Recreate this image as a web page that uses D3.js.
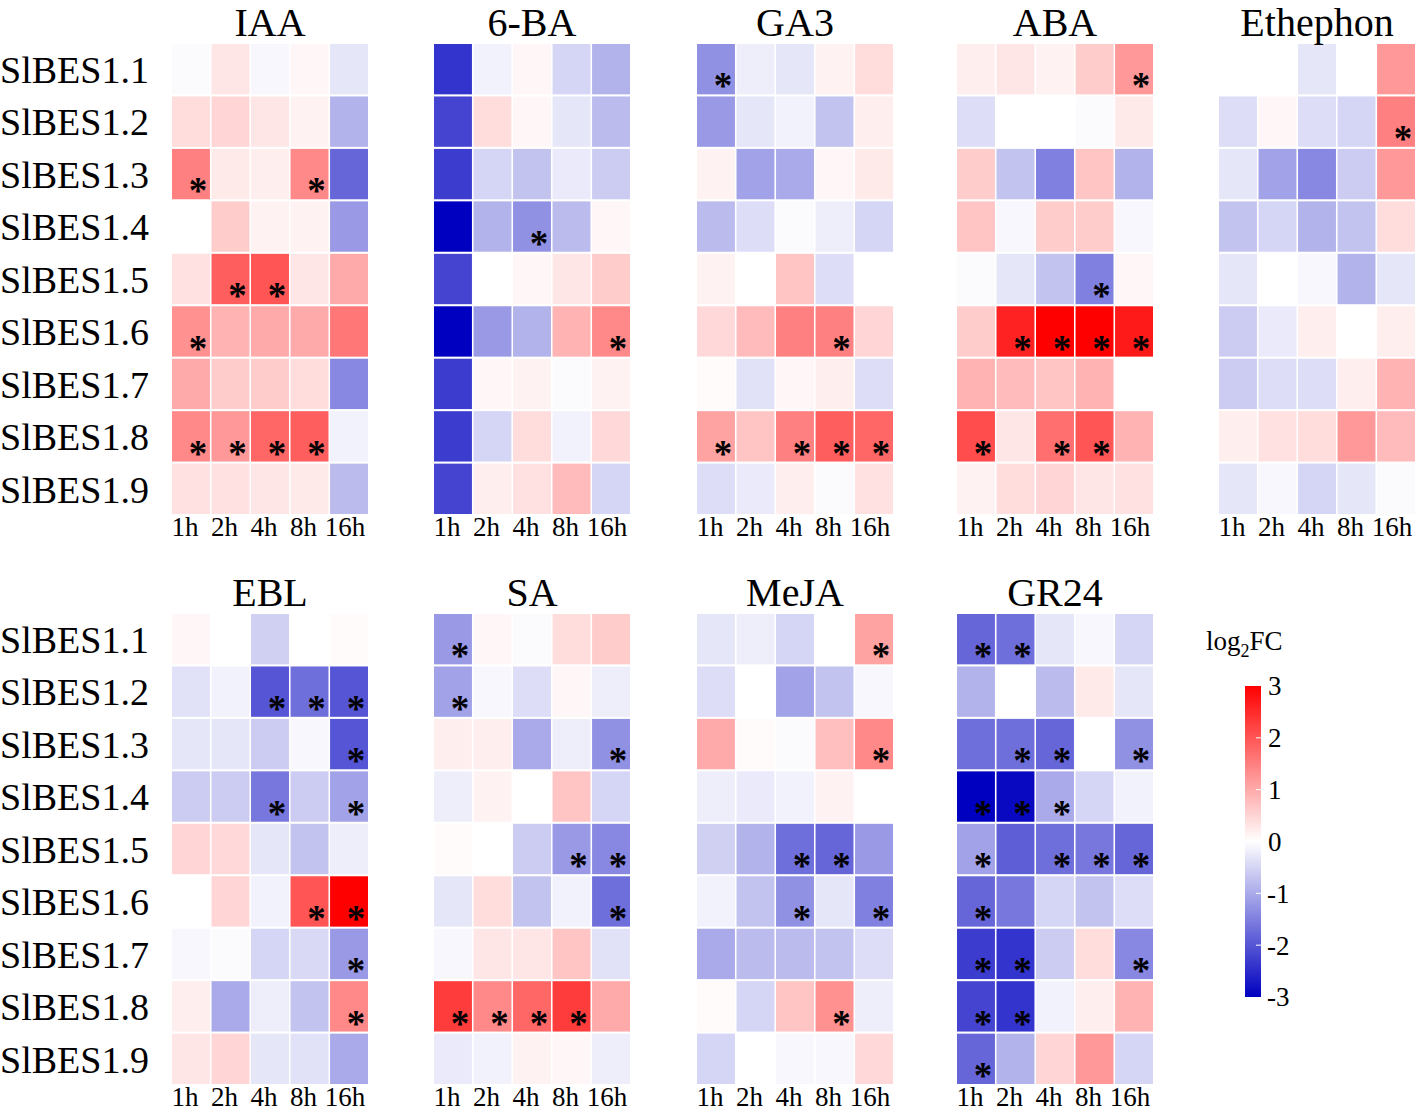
<!DOCTYPE html>
<html><head><meta charset="utf-8">
<script src="https://cdn.jsdelivr.net/npm/d3@7"></script>
<style>body{margin:0;background:#fff}svg{display:block}text{font-family:"Liberation Serif","Times New Roman",serif;fill:#000}</style>
</head><body>
<svg id="c" width="1416" height="1112"></svg>
<script>
const genes = ["SlBES1.1","SlBES1.2","SlBES1.3","SlBES1.4","SlBES1.5","SlBES1.6","SlBES1.7","SlBES1.8","SlBES1.9"];
const times = ["1h","2h","4h","8h","16h"];
const treatments = ["IAA","6-BA","GA3","ABA","Ethephon","EBL","SA","MeJA","GR24"];
const legendTicks = [3,2,1,0,-1,-2,-3];

// log2FC values, rows = genes, cols = times
const IAA = [[-0.05,0.3,-0.1,0.1,-0.3],[0.4,0.5,0.3,0.15,-0.9],[1.5,0.25,0.2,1.4,-1.8],[0.0,0.6,0.15,0.15,-1.2],[0.35,1.9,2.0,0.3,1.0],[1.3,0.9,1.0,1.0,1.6],[1.0,0.6,0.6,0.4,-1.4],[1.4,1.2,1.8,1.9,-0.15],[0.35,0.35,0.3,0.25,-0.8]];
const BA6 = [[-2.4,-0.15,0.1,-0.5,-0.9],[-2.2,0.4,0.1,-0.3,-0.8],[-2.3,-0.5,-0.7,-0.25,-0.6],[-3.0,-0.9,-1.3,-0.8,0.1],[-2.2,0.0,0.1,0.3,0.6],[-3.0,-1.2,-0.9,0.9,1.4],[-2.3,0.1,0.15,-0.05,0.15],[-2.3,-0.5,0.4,-0.15,0.45],[-2.2,0.2,0.35,0.8,-0.5]];
const GA3 = [[-1.3,-0.2,-0.3,0.15,0.4],[-1.2,-0.3,-0.15,-0.7,0.2],[0.15,-1.1,-1.0,0.1,0.25],[-0.8,-0.4,-0.05,-0.2,-0.5],[0.15,0.0,0.7,-0.4,0.0],[0.45,0.8,1.5,1.5,0.5],[0.05,-0.35,0.1,0.2,-0.4],[1.1,0.7,1.5,1.9,1.8],[-0.4,-0.25,0.2,-0.05,0.35]];
const ABA = [[0.2,0.3,0.15,0.6,1.2],[-0.4,0.0,0.0,-0.05,0.25],[0.6,-0.7,-1.5,0.7,-0.9],[0.7,-0.1,0.6,0.6,-0.1],[-0.05,-0.3,-0.7,-1.5,0.1],[0.6,2.6,3.0,3.0,2.7],[0.9,0.8,0.7,0.9,0.0],[2.1,0.3,1.7,2.0,0.9],[0.15,0.4,0.5,0.3,0.35]];
const ETH = [[0.0,0.0,-0.3,0.0,1.2],[-0.4,0.1,-0.4,-0.5,1.5],[-0.3,-1.1,-1.4,-0.6,1.2],[-0.7,-0.5,-0.9,-0.7,0.4],[-0.3,0.0,-0.1,-0.9,-0.3],[-0.6,-0.25,0.2,0.0,0.2],[-0.6,-0.4,-0.4,0.2,0.9],[0.2,0.35,0.4,1.2,0.8],[-0.3,-0.1,-0.5,-0.3,-0.05]];
const EBL = [[0.1,0.0,-0.55,0.0,0.05],[-0.35,-0.15,-2.0,-1.7,-2.0],[-0.3,-0.3,-0.6,-0.1,-2.0],[-0.6,-0.6,-1.6,-0.6,-1.1],[0.5,0.45,-0.3,-0.7,-0.2],[0.0,0.5,-0.15,2.0,3.0],[-0.1,-0.05,-0.5,-0.45,-1.2],[0.2,-1.0,-0.2,-0.7,1.4],[0.3,0.5,-0.3,-0.35,-1.0]];
const SA = [[-1.2,0.1,-0.05,0.4,0.6],[-1.1,-0.1,-0.4,0.1,-0.2],[0.2,0.2,-1.0,-0.2,-1.3],[-0.2,0.15,0.0,0.7,-0.5],[0.05,0.0,-0.6,-1.2,-1.4],[-0.3,0.4,-0.7,-0.15,-1.7],[-0.1,0.3,0.3,0.7,-0.35],[2.3,1.4,1.8,2.3,1.0],[-0.25,-0.15,0.15,0.1,-0.2]];
const MeJA = [[-0.3,-0.2,-0.5,0.0,1.1],[-0.4,0.0,-1.1,-0.7,-0.1],[1.0,0.05,-0.05,0.75,1.4],[-0.2,-0.25,-0.15,0.15,0.0],[-0.55,-0.9,-1.7,-1.8,-1.2],[-0.15,-0.7,-1.3,-0.3,-1.5],[-1.0,-0.8,-0.8,-0.7,-0.4],[0.05,-0.5,0.7,1.3,-0.2],[-0.5,0.0,-0.1,-0.1,0.45]];
const GR24 = [[-1.8,-1.7,-0.3,-0.1,-0.5],[-0.9,0.0,-0.8,0.25,-0.3],[-1.7,-1.7,-1.8,0.0,-1.3],[-3.0,-2.9,-1.0,-0.5,-0.15],[-1.1,-1.9,-1.7,-1.6,-1.8],[-1.8,-1.6,-0.5,-0.7,-0.4],[-2.3,-2.4,-0.6,0.4,-1.4],[-2.2,-2.4,-0.15,0.2,0.9],[-1.8,-0.9,0.5,1.2,-0.5]];

// significance marks (1 = *)
const IAA_sig = [[0,0,0,0,0],[0,0,0,0,0],[1,0,0,1,0],[0,0,0,0,0],[0,1,1,0,0],[1,0,0,0,0],[0,0,0,0,0],[1,1,1,1,0],[0,0,0,0,0]];
const BA6_sig = [[0,0,0,0,0],[0,0,0,0,0],[0,0,0,0,0],[0,0,1,0,0],[0,0,0,0,0],[0,0,0,0,1],[0,0,0,0,0],[0,0,0,0,0],[0,0,0,0,0]];
const GA3_sig = [[1,0,0,0,0],[0,0,0,0,0],[0,0,0,0,0],[0,0,0,0,0],[0,0,0,0,0],[0,0,0,1,0],[0,0,0,0,0],[1,0,1,1,1],[0,0,0,0,0]];
const ABA_sig = [[0,0,0,0,1],[0,0,0,0,0],[0,0,0,0,0],[0,0,0,0,0],[0,0,0,1,0],[0,1,1,1,1],[0,0,0,0,0],[1,0,1,1,0],[0,0,0,0,0]];
const ETH_sig = [[0,0,0,0,0],[0,0,0,0,1],[0,0,0,0,0],[0,0,0,0,0],[0,0,0,0,0],[0,0,0,0,0],[0,0,0,0,0],[0,0,0,0,0],[0,0,0,0,0]];
const EBL_sig = [[0,0,0,0,0],[0,0,1,1,1],[0,0,0,0,1],[0,0,1,0,1],[0,0,0,0,0],[0,0,0,1,1],[0,0,0,0,1],[0,0,0,0,1],[0,0,0,0,0]];
const SA_sig = [[1,0,0,0,0],[1,0,0,0,0],[0,0,0,0,1],[0,0,0,0,0],[0,0,0,1,1],[0,0,0,0,1],[0,0,0,0,0],[1,1,1,1,0],[0,0,0,0,0]];
const MeJA_sig = [[0,0,0,0,1],[0,0,0,0,0],[0,0,0,0,1],[0,0,0,0,0],[0,0,1,1,0],[0,0,1,0,1],[0,0,0,0,0],[0,0,0,1,0],[0,0,0,0,0]];
const GR24_sig = [[1,1,0,0,0],[0,0,0,0,0],[0,1,1,0,1],[1,1,1,0,0],[1,0,1,1,1],[1,0,0,0,0],[1,1,0,0,1],[1,1,0,0,0],[1,0,0,0,0]];

const values = [IAA,BA6,GA3,ABA,ETH,EBL,SA,MeJA,GR24];
const sigs = [IAA_sig,BA6_sig,GA3_sig,ABA_sig,ETH_sig,EBL_sig,SA_sig,MeJA_sig,GR24_sig];

// layout
const panelX = [172,434,697,957,1219,172,434,697,957];
const panelY = [44,44,44,44,44,614,614,614,614];
const PW = 196, PH = 470;

const color = d3.scaleLinear().domain([-3,0,3]).range(["#0000c0","#ffffff","#ff0000"]).clamp(true);
const svg = d3.select("#c");

treatments.forEach((t,i)=>{
  const g = svg.append("g").attr("transform",`translate(${panelX[i]},${panelY[i]})`);
  const x = d3.scaleBand().domain(times).range([0,PW]).paddingInner(0.04);
  const y = d3.scaleBand().domain(genes).range([0,PH]).paddingInner(0.04);
  const cells = [];
  genes.forEach((gn,r)=>times.forEach((tm,c)=>cells.push({gn,tm,v:values[i][r][c],s:sigs[i][r][c]})));
  g.selectAll("rect").data(cells).join("rect")
    .attr("x",d=>x(d.tm)).attr("y",d=>y(d.gn))
    .attr("width",x.bandwidth()).attr("height",y.bandwidth())
    .attr("fill",d=>color(d.v));
  g.selectAll("text.star").data(cells.filter(d=>d.s)).join("text").attr("class","star")
    .attr("x",d=>x(d.tm)+x.bandwidth()-12).attr("y",d=>y(d.gn)+y.bandwidth()-12+16)
    .attr("text-anchor","middle").attr("font-size",37).attr("font-weight","bold").text("*");
  g.append("text").attr("x",PW/2).attr("y",-8).attr("text-anchor","middle")
    .attr("font-size",40).text(t);
  const xAxis = d3.axisBottom(x).tickSize(0).tickPadding(3);
  const ax = g.append("g").attr("transform",`translate(0,${PH})`).call(xAxis);
  ax.select(".domain").remove();
  ax.selectAll("text").attr("font-size",27).attr("font-family","Liberation Serif").attr("fill","#000")
    .attr("dy","0.71em").attr("dx",d=>d==="16h"?-4:-6);
  if (i===0 || i===5) {
    const yAxis = d3.axisLeft(y).tickSize(0).tickPadding(0);
    const ay = g.append("g").attr("transform",`translate(${-172},0)`).call(yAxis);
    ay.select(".domain").remove();
    ay.selectAll("text").attr("text-anchor","start").attr("x",0).attr("font-size",38)
      .attr("font-family","Liberation Serif").attr("fill","#000").attr("dy","0.36em");
  }
});

// legend
const defs = svg.append("defs");
const grad = defs.append("linearGradient").attr("id","lg").attr("x1",0).attr("y1",1).attr("x2",0).attr("y2",0);
[-3,0,3].forEach(v=>grad.append("stop").attr("offset",(v+3)/6).attr("stop-color",color(v)));
const ly = d3.scaleLinear().domain([3,-3]).range([686,997]);
svg.append("rect").attr("x",1245).attr("y",686).attr("width",16).attr("height",311).attr("fill","url(#lg)");
svg.selectAll("line.lt").data(legendTicks.slice(1,-1)).join("line").attr("class","lt")
  .attr("x1",1256).attr("x2",1261).attr("y1",d=>ly(d)).attr("y2",d=>ly(d)).attr("stroke","#fff").attr("stroke-width",1);
svg.selectAll("text.lt").data(legendTicks).join("text").attr("class","lt")
  .attr("x",d=>d<0?1267:1268).attr("y",d=>ly(d)).attr("dy","0.35em").attr("font-size",27)
  .text(d=>d<0?"-"+Math.abs(d):String(d));
const lt = svg.append("text").attr("x",1206).attr("y",650).attr("font-size",27);
lt.append("tspan").text("log");
lt.append("tspan").attr("font-size",18).attr("dy",7).text("2");
lt.append("tspan").attr("dy",-7).text("FC");
</script>
</body></html>
